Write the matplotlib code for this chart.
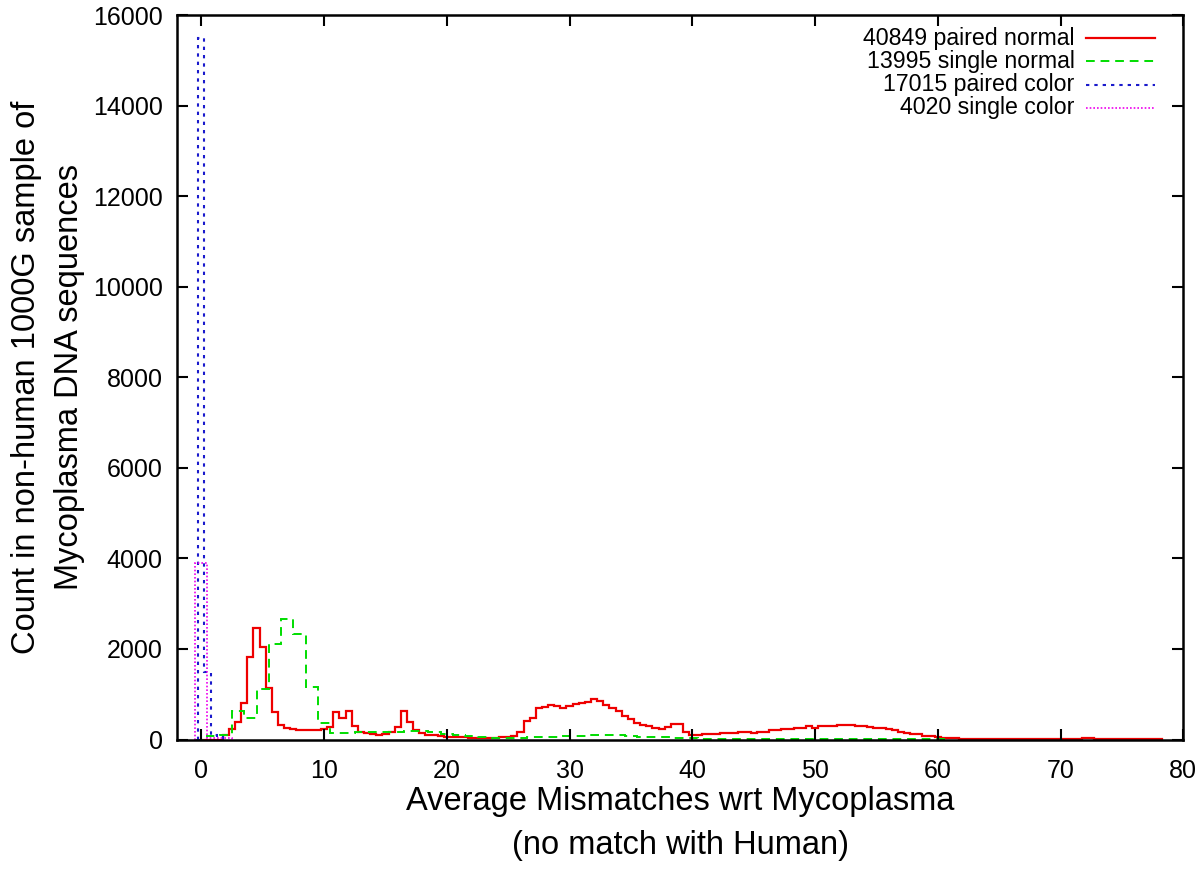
import numpy as np
import matplotlib
matplotlib.use('Agg')
import matplotlib.pyplot as plt
from matplotlib.lines import Line2D

plt.rcParams['font.family'] = ['Liberation Sans', 'DejaVu Sans']

# histogram bins: first bin centre and bin width for each series
RED_X0, RED_BIN = 0.0, 0.5
GREEN_X0, GREEN_BIN = 0.0, 1.0
BLUE_X0, BLUE_BIN = 0.0, 0.5
MAGENTA_X0, MAGENTA_BIN = 0.0, 1.0

# 40849 paired normal (bins of 0.5 from 0 to 78)
red_counts = [
    0, 0, 0, 0, 95, 230, 390, 810, 1815, 2470,
    2040, 1145, 610, 320, 245, 230, 220, 210, 215, 220,
    240, 280, 612, 480, 634, 300, 160, 140, 120, 110,
    130, 170, 270, 625, 380, 200, 150, 110, 90, 75,
    65, 55, 50, 45, 40, 35, 30, 30, 35, 45,
    55, 85, 170, 400, 465, 686, 710, 770, 750, 705,
    745, 790, 810, 830, 885, 850, 760, 705, 635, 520,
    445, 370, 330, 295, 255, 225, 270, 350, 340, 160,
    110, 110, 115, 120, 130, 135, 145, 150, 165, 165,
    150, 165, 170, 200, 210, 230, 240, 245, 265, 295,
    265, 300, 305, 305, 310, 318, 318, 300, 295, 268,
    260, 255, 225, 215, 170, 150, 120, 115, 85, 75,
    60, 40, 35, 25, 15,
    12, 10, 10, 8, 8, 8, 8, 8, 8, 8, 8, 8, 8, 8, 8, 8, 8, 8,
    20, 25, 25, 20, 20,
    8, 8, 8, 8, 8, 8, 8, 8, 8,
]

# 13995 single normal (bins of 1 from 0 to 60)
green_counts = [
    0, 80, 100, 633, 465, 1114, 2104, 2658, 2325, 1165,
    354, 140, 150, 160, 165, 170, 175, 185, 190, 170,
    130, 100, 70, 45, 30, 30, 40, 50, 55, 65,
    75, 85, 95, 110, 100, 80, 60, 55, 45, 35,
    25, 15, 15, 15, 15, 15, 10, 10, 10, 10,
    10, 10, 10, 10, 10, 10, 10, 10, 10, 10, 10,
]

# 17015 paired color
blue_counts = [15500, 1500, 100, 80]

# 4020 single color
magenta_counts = [3900, 30, 30]

labels = ['40849 paired normal', '13995 single normal',
          '17015 paired color', '4020 single color']
colors = ['#ee0000', '#00dd00', '#1a1acc', '#ee00ee']


def edges(x0, width, n):
    return x0 - width / 2 + width * np.arange(n + 1)


fig = plt.figure(figsize=(12, 8.73), dpi=100)
ax = fig.add_axes([0.1473, 0.1529, 0.8388, 0.8299])

styles = [
    dict(linestyle='-', linewidth=1.6),
    dict(linestyle=(0, (4.5, 3.0)), linewidth=1.4),
    dict(linestyle=(0, (1.6, 2.4)), linewidth=1.5),
    dict(linestyle=(0, (1.0, 1.2)), linewidth=1.2),
]
series = [
    (red_counts, RED_X0, RED_BIN),
    (green_counts, GREEN_X0, GREEN_BIN),
    (blue_counts, BLUE_X0, BLUE_BIN),
    (magenta_counts, MAGENTA_X0, MAGENTA_BIN),
]
for (vals, x0, w), c, st in zip(series, colors, styles):
    ax.stairs(vals, edges(x0, w, len(vals)), baseline=0, color=c, **st)

ax.set_xlim(-2, 80)
ax.set_ylim(0, 16000)
ax.set_xticks(np.arange(0, 81, 10))
ax.set_yticks(np.arange(0, 16001, 2000))
ax.tick_params(direction='in', length=8, width=1.5, labelsize=18,
               top=True, right=True)
ax.tick_params(axis='x', pad=14)
ax.tick_params(axis='y', pad=10)
for s in ax.spines.values():
    s.set_linewidth(1.8)

ax.set_xlabel('Average Mismatches wrt Mycoplasma\n(no match with Human)',
              fontsize=23.5, linespacing=1.55, labelpad=2)
ax.set_ylabel('Count in non-human 1000G sample of\nMycoplasma DNA sequences',
              fontsize=23.5, linespacing=1.5, labelpad=6)

# gnuplot style key: right aligned text, sample line on its right
row_y = [0.968, 0.936, 0.904, 0.872]
for lab, c, st, yy in zip(labels, colors, styles, row_y):
    ax.text(0.892, yy, lab, transform=ax.transAxes, ha='right', va='center',
            fontsize=16.7)
    ax.add_line(Line2D([0.903, 0.972], [yy, yy], transform=ax.transAxes,
                       color=c, **st))

fig.savefig('out.png', dpi=100)
